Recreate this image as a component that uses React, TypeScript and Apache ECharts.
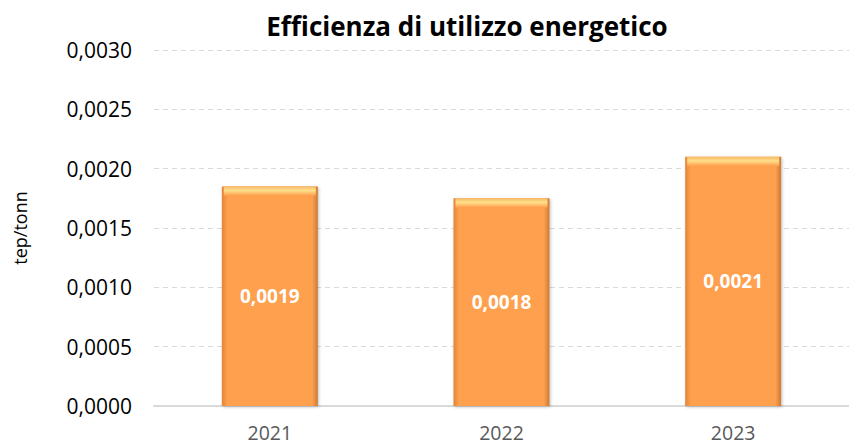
import React, { useEffect, useRef } from "react";
import * as echarts from "echarts";

const categories = ["2021", "2022", "2023"];
const values = [0.00185, 0.00175, 0.0021];
const labels = ["0,0019", "0,0018", "0,0021"];
const titleText = "Efficienza di utilizzo energetico";
const yAxisName = "tep/tonn";

export default function App() {
  const ref = useRef<HTMLDivElement>(null);
  useEffect(() => {
    document.body.style.margin = "0";
    const chart = echarts.init(ref.current!, null, { renderer: "svg" });
    const font = "'Open Sans', 'Noto Sans', sans-serif";
    chart.setOption({
      animation: false,
      backgroundColor: "#ffffff",
      title: {
        text: titleText,
        left: 462,
        textAlign: "center",
        top: 8,
        textStyle: { fontFamily: font, fontSize: 26, fontWeight: "bold", color: "#000" },
      },
      grid: { left: 154, top: 50, width: 703, bottom: 40 },
      xAxis: {
        type: "category",
        data: categories,
        axisTick: { show: false },
        axisLine: { lineStyle: { color: "#D9D9D9", width: 2 } },
        axisLabel: { color: "#595959", fontSize: 19.5, fontFamily: font, margin: 16 },
      },
      yAxis: {
        type: "value",
        min: 0,
        max: 0.003,
        interval: 0.0005,
        name: yAxisName,
        nameLocation: "middle",
        nameGap: 125,
        nameTextStyle: { fontFamily: font, fontSize: 18, color: "#000" },
        axisLabel: {
          color: "#000",
          fontSize: 21,
          fontFamily: font,
          margin: 22,
          formatter: (v: number) => v.toFixed(4).replace(".", ","),
        },
        splitLine: { lineStyle: { color: "#D9D9D9", type: [5, 4], width: 1 } },
      },
      series: [
        {
          type: "bar",
          barWidth: 96,
          data: values.map((v, i) => ({
            value: v,
            label: { formatter: labels[i] },
          })),
          itemStyle: {
            color: new echarts.graphic.LinearGradient(0, 0, 1, 0, [
              { offset: 0, color: "#E0853A" },
              { offset: 0.06, color: "#FFA04F" },
              { offset: 0.94, color: "#FFA04F" },
              { offset: 1, color: "#C97A35" },
            ]),
            shadowColor: "rgba(0,0,0,0.25)",
            shadowBlur: 3,
            shadowOffsetX: 1,
            shadowOffsetY: 1,
          },
          label: {
            show: true,
            position: "inside",
            color: "#fff",
            fontWeight: "bold",
            fontSize: 19,
            fontFamily: font,
          },
        },
        {
          type: "pictorialBar",
          data: values,
          symbol: "rect",
          symbolPosition: "end",
          symbolSize: [92, 9],
          symbolOffset: [0, 0],
          z: 3,
          silent: true,
          itemStyle: {
            color: new echarts.graphic.LinearGradient(0, 0, 0, 1, [
              { offset: 0, color: "#F7B868" },
              { offset: 0.45, color: "#FFE08A" },
              { offset: 1, color: "#FFA04F" },
            ]),
          },
        },
      ],
    });
    return () => chart.dispose();
  }, []);
  return <div ref={ref} style={{ width: 849, height: 446 }} />;
}
